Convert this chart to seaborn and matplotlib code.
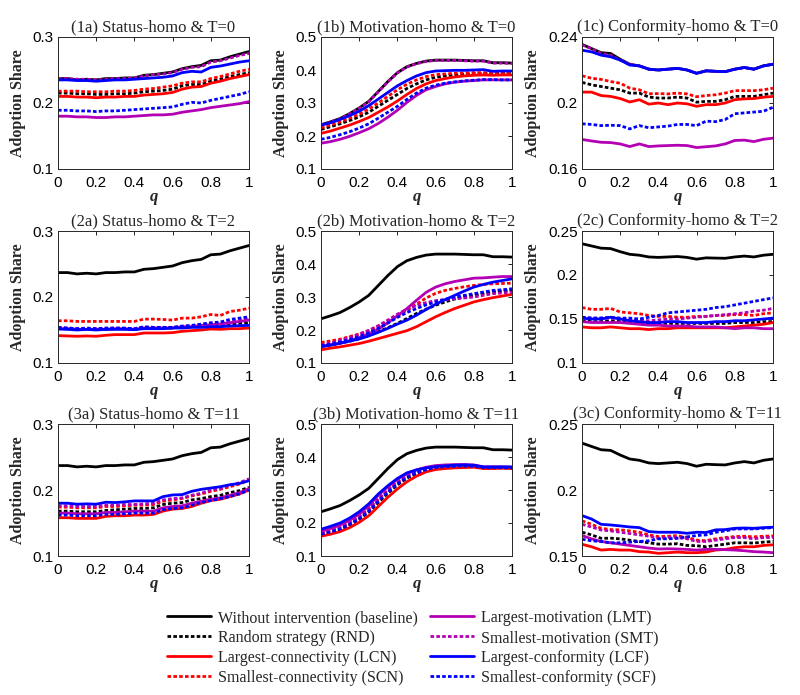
import numpy as np
import pandas as pd
import matplotlib
matplotlib.use("Agg")
import matplotlib.pyplot as plt
import seaborn as sns
from matplotlib.lines import Line2D

# ---------------- data ----------------
q = [0, 0.05, 0.1, 0.15, 0.2, 0.25, 0.3, 0.35, 0.4, 0.45, 0.5,
     0.55, 0.6, 0.65, 0.7, 0.75, 0.8, 0.85, 0.9, 0.95, 1.0]

strategies = ["BASE", "RND", "LCN", "SCN", "LMT", "SMT", "LCF", "SCF"]
legend_labels = ["Without intervention (baseline)", "Random strategy (RND)",
                 "Largest-connectivity (LCN)", "Smallest-connectivity (SCN)",
                 "Largest-motivation (LMT)", "Smallest-motivation (SMT)",
                 "Largest-conformity (LCF)", "Smallest-conformity (SCF)"]

titles = ["(1a) Status-homo & T=0", "(1b) Motivation-homo & T=0", "(1c) Conformity-homo & T=0",
          "(2a) Status-homo & T=2", "(2b) Motivation-homo & T=2", "(2c) Conformity-homo & T=2",
          "(3a) Status-homo & T=11", "(3b) Motivation-homo & T=11", "(3c) Conformity-homo & T=11"]

base_status = [0.237, 0.237, 0.235, 0.236, 0.235, 0.237, 0.237, 0.238, 0.238, 0.242, 0.243,
               0.245, 0.247, 0.252, 0.255, 0.257, 0.264, 0.265, 0.270, 0.274, 0.278]
base_motiv = [0.234, 0.243, 0.253, 0.268, 0.285, 0.305, 0.335, 0.365, 0.392, 0.410, 0.420,
              0.427, 0.430, 0.430, 0.430, 0.429, 0.428, 0.428, 0.422, 0.422, 0.421]
base_conf = [0.2355, 0.233, 0.2305, 0.230, 0.2265, 0.2235, 0.2225, 0.2205, 0.220, 0.2205, 0.221,
             0.220, 0.218, 0.2195, 0.2192, 0.219, 0.2205, 0.2215, 0.2205, 0.2225, 0.2235]

# (1a)
p1a_RND = [0.215, 0.215, 0.214, 0.214, 0.213, 0.213, 0.214, 0.214, 0.215, 0.217, 0.218, 0.219, 0.221, 0.226, 0.228, 0.228, 0.233, 0.236, 0.240, 0.243, 0.246]
p1a_LCN = [0.210, 0.210, 0.209, 0.209, 0.208, 0.209, 0.209, 0.210, 0.210, 0.212, 0.213, 0.214, 0.216, 0.221, 0.224, 0.225, 0.230, 0.233, 0.237, 0.240, 0.243]
p1a_SCN = [0.218, 0.218, 0.218, 0.217, 0.217, 0.217, 0.218, 0.218, 0.219, 0.221, 0.222, 0.224, 0.226, 0.230, 0.232, 0.232, 0.237, 0.240, 0.244, 0.248, 0.251]
p1a_LMT = [0.180, 0.180, 0.179, 0.179, 0.178, 0.178, 0.179, 0.179, 0.180, 0.181, 0.182, 0.182, 0.183, 0.186, 0.188, 0.190, 0.193, 0.195, 0.197, 0.199, 0.202]
p1a_SMT = [0.237, 0.237, 0.236, 0.236, 0.235, 0.236, 0.237, 0.237, 0.238, 0.241, 0.243, 0.244, 0.246, 0.251, 0.254, 0.255, 0.262, 0.264, 0.268, 0.272, 0.275]
p1a_LCF = [0.235, 0.235, 0.234, 0.234, 0.233, 0.234, 0.235, 0.235, 0.236, 0.237, 0.238, 0.239, 0.241, 0.246, 0.248, 0.247, 0.254, 0.256, 0.259, 0.262, 0.264]
p1a_SCF = [0.189, 0.189, 0.188, 0.188, 0.187, 0.188, 0.188, 0.189, 0.190, 0.191, 0.192, 0.193, 0.194, 0.198, 0.201, 0.200, 0.204, 0.207, 0.210, 0.213, 0.217]

# (1b)
p1b_RND = [0.220, 0.228, 0.237, 0.247, 0.258, 0.272, 0.290, 0.308, 0.326, 0.344, 0.358, 0.370, 0.378, 0.382, 0.385, 0.387, 0.389, 0.390, 0.389, 0.389, 0.390]
p1b_LCN = [0.208, 0.215, 0.224, 0.233, 0.244, 0.256, 0.272, 0.288, 0.306, 0.326, 0.344, 0.358, 0.368, 0.374, 0.379, 0.382, 0.384, 0.385, 0.384, 0.385, 0.385]
p1b_SCN = [0.225, 0.233, 0.243, 0.254, 0.266, 0.282, 0.300, 0.320, 0.340, 0.357, 0.370, 0.380, 0.386, 0.388, 0.390, 0.391, 0.392, 0.392, 0.390, 0.390, 0.390]
p1b_LMT = [0.178, 0.183, 0.190, 0.199, 0.210, 0.222, 0.238, 0.257, 0.278, 0.302, 0.323, 0.340, 0.350, 0.358, 0.363, 0.366, 0.368, 0.370, 0.370, 0.370, 0.370]
p1b_SMT = [0.233, 0.242, 0.252, 0.267, 0.284, 0.304, 0.334, 0.364, 0.391, 0.409, 0.419, 0.426, 0.429, 0.429, 0.429, 0.428, 0.427, 0.427, 0.421, 0.421, 0.420]
p1b_LCF = [0.233, 0.240, 0.250, 0.262, 0.275, 0.292, 0.312, 0.332, 0.352, 0.368, 0.382, 0.392, 0.397, 0.398, 0.399, 0.399, 0.400, 0.401, 0.396, 0.397, 0.397]
p1b_SCF = [0.190, 0.196, 0.204, 0.213, 0.224, 0.237, 0.254, 0.272, 0.290, 0.311, 0.330, 0.345, 0.354, 0.360, 0.364, 0.367, 0.369, 0.371, 0.371, 0.370, 0.370]

# (1c)
p1c_RND = [0.2125, 0.211, 0.210, 0.209, 0.208, 0.206, 0.206, 0.2036, 0.203, 0.203, 0.2036, 0.203, 0.2005, 0.201, 0.201, 0.202, 0.204, 0.204, 0.204, 0.205, 0.206]
p1c_LCN = [0.2066, 0.2066, 0.2045, 0.204, 0.2027, 0.2006, 0.202, 0.1993, 0.200, 0.199, 0.200, 0.1995, 0.198, 0.199, 0.199, 0.200, 0.202, 0.2025, 0.2027, 0.2035, 0.204]
p1c_SCN = [0.2165, 0.215, 0.2143, 0.213, 0.212, 0.209, 0.208, 0.2056, 0.2057, 0.2055, 0.206, 0.2055, 0.2038, 0.2045, 0.205, 0.206, 0.2075, 0.2075, 0.2075, 0.208, 0.209]
p1c_LMT = [0.1779, 0.177, 0.1762, 0.176, 0.1752, 0.1736, 0.1752, 0.1736, 0.174, 0.1742, 0.1744, 0.1742, 0.173, 0.1735, 0.174, 0.1752, 0.1773, 0.1775, 0.1766, 0.178, 0.1787]
p1c_SMT = [0.2352, 0.233, 0.230, 0.229, 0.226, 0.2235, 0.2225, 0.2205, 0.220, 0.2205, 0.221, 0.220, 0.218, 0.2195, 0.2192, 0.219, 0.2205, 0.2215, 0.2205, 0.2225, 0.2235]
p1c_LCF = [0.232, 0.231, 0.229, 0.228, 0.226, 0.223, 0.2225, 0.2205, 0.220, 0.2205, 0.221, 0.220, 0.218, 0.2195, 0.2192, 0.219, 0.2205, 0.2215, 0.2205, 0.2225, 0.2235]
p1c_SCF = [0.1874, 0.187, 0.1863, 0.1865, 0.1863, 0.1843, 0.1863, 0.185, 0.1855, 0.186, 0.187, 0.187, 0.1863, 0.189, 0.1887, 0.190, 0.1935, 0.194, 0.1945, 0.195, 0.1974]

# (2a)
p2a_RND = [0.152, 0.152, 0.151, 0.151, 0.151, 0.151, 0.152, 0.152, 0.151, 0.153, 0.153, 0.153, 0.153, 0.155, 0.155, 0.156, 0.157, 0.157, 0.159, 0.160, 0.161]
p2a_LCN = [0.1415, 0.141, 0.1405, 0.141, 0.1405, 0.142, 0.143, 0.143, 0.143, 0.1455, 0.1455, 0.1455, 0.146, 0.148, 0.149, 0.150, 0.1515, 0.151, 0.152, 0.152, 0.153]
p2a_SCN = [0.164, 0.164, 0.163, 0.163, 0.163, 0.163, 0.163, 0.163, 0.163, 0.1665, 0.1665, 0.166, 0.165, 0.168, 0.168, 0.170, 0.1735, 0.172, 0.178, 0.180, 0.183]
p2a_LMT = [0.152, 0.152, 0.151, 0.151, 0.151, 0.151, 0.152, 0.152, 0.151, 0.153, 0.153, 0.153, 0.153, 0.155, 0.155, 0.157, 0.158, 0.159, 0.161, 0.163, 0.165]
p2a_SMT = [0.153, 0.153, 0.152, 0.152, 0.152, 0.152, 0.153, 0.152, 0.152, 0.154, 0.154, 0.154, 0.154, 0.155, 0.156, 0.157, 0.159, 0.160, 0.163, 0.165, 0.167]
p2a_LCF = [0.1515, 0.151, 0.150, 0.151, 0.150, 0.151, 0.151, 0.151, 0.1505, 0.152, 0.152, 0.152, 0.153, 0.153, 0.154, 0.154, 0.155, 0.155, 0.156, 0.1565, 0.157]
p2a_SCF = [0.154, 0.153, 0.152, 0.153, 0.152, 0.153, 0.153, 0.153, 0.152, 0.155, 0.154, 0.154, 0.154, 0.156, 0.157, 0.159, 0.161, 0.162, 0.166, 0.168, 0.170]

# (2b)
p2b_RND = [0.150, 0.154, 0.160, 0.166, 0.173, 0.183, 0.195, 0.207, 0.220, 0.235, 0.250, 0.263, 0.275, 0.285, 0.294, 0.300, 0.305, 0.310, 0.315, 0.318, 0.320]
p2b_LCN = [0.140, 0.145, 0.149, 0.154, 0.159, 0.166, 0.174, 0.182, 0.190, 0.198, 0.210, 0.225, 0.240, 0.253, 0.265, 0.275, 0.285, 0.292, 0.298, 0.303, 0.308]
p2b_SCN = [0.162, 0.167, 0.172, 0.180, 0.188, 0.198, 0.211, 0.226, 0.243, 0.260, 0.278, 0.297, 0.311, 0.320, 0.326, 0.331, 0.335, 0.338, 0.340, 0.341, 0.342]
p2b_LMT = [0.150, 0.155, 0.160, 0.168, 0.177, 0.188, 0.202, 0.222, 0.243, 0.265, 0.290, 0.314, 0.330, 0.340, 0.347, 0.352, 0.357, 0.358, 0.360, 0.362, 0.362]
p2b_SMT = [0.155, 0.161, 0.168, 0.177, 0.187, 0.199, 0.213, 0.230, 0.248, 0.263, 0.274, 0.283, 0.289, 0.292, 0.295, 0.297, 0.300, 0.305, 0.310, 0.312, 0.315]
p2b_LCF = [0.150, 0.154, 0.160, 0.166, 0.173, 0.182, 0.193, 0.205, 0.218, 0.230, 0.245, 0.262, 0.278, 0.292, 0.305, 0.318, 0.330, 0.338, 0.345, 0.350, 0.355]
p2b_SCF = [0.152, 0.157, 0.164, 0.171, 0.180, 0.191, 0.205, 0.221, 0.238, 0.253, 0.265, 0.276, 0.285, 0.293, 0.300, 0.305, 0.310, 0.315, 0.320, 0.322, 0.325]

# (2c)
p2c_RND = [0.148, 0.147, 0.147, 0.148, 0.147, 0.146, 0.145, 0.145, 0.145, 0.145, 0.145, 0.145, 0.145, 0.145, 0.145, 0.145, 0.146, 0.146, 0.146, 0.147, 0.147]
p2c_LCN = [0.141, 0.140, 0.140, 0.141, 0.140, 0.139, 0.139, 0.138, 0.139, 0.139, 0.140, 0.140, 0.140, 0.140, 0.140, 0.140, 0.141, 0.142, 0.143, 0.144, 0.146]
p2c_SCN = [0.163, 0.161, 0.161, 0.162, 0.158, 0.157, 0.156, 0.154, 0.153, 0.153, 0.152, 0.152, 0.153, 0.153, 0.154, 0.154, 0.155, 0.155, 0.154, 0.156, 0.157]
p2c_LMT = [0.147, 0.146, 0.146, 0.146, 0.146, 0.145, 0.144, 0.143, 0.143, 0.142, 0.142, 0.142, 0.141, 0.141, 0.141, 0.140, 0.139, 0.140, 0.140, 0.139, 0.139]
p2c_SMT = [0.152, 0.151, 0.151, 0.151, 0.150, 0.149, 0.149, 0.148, 0.149, 0.150, 0.150, 0.151, 0.152, 0.153, 0.154, 0.155, 0.156, 0.157, 0.159, 0.160, 0.162]
p2c_LCF = [0.151, 0.150, 0.150, 0.152, 0.150, 0.148, 0.147, 0.146, 0.146, 0.147, 0.147, 0.146, 0.146, 0.146, 0.147, 0.147, 0.148, 0.148, 0.149, 0.150, 0.151]
p2c_SCF = [0.152, 0.151, 0.151, 0.152, 0.151, 0.151, 0.150, 0.152, 0.154, 0.157, 0.158, 0.159, 0.160, 0.161, 0.163, 0.164, 0.166, 0.168, 0.170, 0.172, 0.174]

# (3a)
p3a_RND = [0.168, 0.168, 0.167, 0.167, 0.167, 0.169, 0.170, 0.171, 0.172, 0.172, 0.173, 0.178, 0.180, 0.181, 0.185, 0.187, 0.190, 0.192, 0.196, 0.199, 0.204]
p3a_LCN = [0.158, 0.158, 0.157, 0.157, 0.157, 0.160, 0.161, 0.161, 0.162, 0.162, 0.163, 0.168, 0.171, 0.172, 0.175, 0.180, 0.184, 0.186, 0.190, 0.194, 0.200]
p3a_SCN = [0.174, 0.174, 0.173, 0.173, 0.173, 0.175, 0.175, 0.176, 0.177, 0.177, 0.178, 0.183, 0.185, 0.187, 0.191, 0.194, 0.198, 0.201, 0.205, 0.209, 0.215]
p3a_LMT = [0.165, 0.165, 0.164, 0.164, 0.164, 0.166, 0.166, 0.167, 0.168, 0.168, 0.168, 0.173, 0.175, 0.176, 0.180, 0.183, 0.186, 0.188, 0.192, 0.196, 0.202]
p3a_SMT = [0.176, 0.176, 0.175, 0.175, 0.175, 0.177, 0.177, 0.178, 0.178, 0.179, 0.180, 0.185, 0.187, 0.188, 0.192, 0.195, 0.200, 0.202, 0.207, 0.211, 0.217]
p3a_LCF = [0.180, 0.180, 0.1785, 0.179, 0.1785, 0.1815, 0.181, 0.182, 0.1835, 0.1835, 0.1835, 0.190, 0.1925, 0.193, 0.198, 0.201, 0.203, 0.205, 0.208, 0.210, 0.214]
p3a_SCF = [0.162, 0.162, 0.161, 0.161, 0.161, 0.163, 0.163, 0.164, 0.165, 0.165, 0.165, 0.170, 0.172, 0.173, 0.177, 0.181, 0.184, 0.187, 0.190, 0.194, 0.200]

# (3b)
p3b_RND = [0.165, 0.172, 0.180, 0.194, 0.211, 0.233, 0.262, 0.290, 0.315, 0.336, 0.350, 0.360, 0.366, 0.370, 0.371, 0.372, 0.372, 0.367, 0.367, 0.367, 0.366]
p3b_LCN = [0.160, 0.166, 0.174, 0.186, 0.202, 0.222, 0.250, 0.278, 0.303, 0.325, 0.342, 0.355, 0.362, 0.365, 0.367, 0.368, 0.369, 0.365, 0.365, 0.366, 0.365]
p3b_SCN = [0.168, 0.176, 0.185, 0.199, 0.216, 0.240, 0.270, 0.298, 0.322, 0.342, 0.355, 0.364, 0.369, 0.372, 0.373, 0.374, 0.373, 0.368, 0.368, 0.368, 0.367]
p3b_LMT = [0.175, 0.183, 0.194, 0.208, 0.227, 0.252, 0.284, 0.310, 0.333, 0.350, 0.361, 0.369, 0.374, 0.376, 0.377, 0.377, 0.376, 0.370, 0.370, 0.370, 0.369]
p3b_SMT = [0.171, 0.178, 0.188, 0.202, 0.220, 0.244, 0.275, 0.302, 0.326, 0.345, 0.357, 0.366, 0.371, 0.373, 0.375, 0.376, 0.374, 0.369, 0.369, 0.369, 0.368]
p3b_LCF = [0.181, 0.190, 0.200, 0.215, 0.234, 0.258, 0.288, 0.313, 0.335, 0.352, 0.361, 0.367, 0.371, 0.373, 0.375, 0.376, 0.375, 0.370, 0.370, 0.370, 0.370]
p3b_SCF = [0.166, 0.173, 0.182, 0.196, 0.213, 0.236, 0.266, 0.294, 0.319, 0.339, 0.352, 0.362, 0.368, 0.371, 0.372, 0.373, 0.372, 0.368, 0.368, 0.368, 0.367]

# (3c)
p3c_RND = [0.168, 0.166, 0.1634, 0.1635, 0.163, 0.162, 0.161, 0.160, 0.159, 0.159, 0.1593, 0.158, 0.1578, 0.157, 0.158, 0.159, 0.160, 0.160, 0.1598, 0.1605, 0.161]
p3c_LCN = [0.1589, 0.157, 0.1545, 0.155, 0.1545, 0.1545, 0.1533, 0.153, 0.152, 0.1525, 0.153, 0.1525, 0.1525, 0.153, 0.1545, 0.155, 0.1563, 0.157, 0.157, 0.158, 0.1585]
p3c_SCN = [0.1767, 0.174, 0.171, 0.170, 0.1698, 0.169, 0.168, 0.166, 0.1647, 0.165, 0.1654, 0.164, 0.162, 0.1616, 0.163, 0.164, 0.1647, 0.165, 0.1645, 0.165, 0.1652]
p3c_LMT = [0.1655, 0.163, 0.161, 0.160, 0.159, 0.158, 0.157, 0.156, 0.1553, 0.1555, 0.1553, 0.155, 0.1545, 0.155, 0.155, 0.1548, 0.1545, 0.154, 0.1533, 0.153, 0.1525]
p3c_SMT = [0.174, 0.172, 0.1697, 0.169, 0.168, 0.167, 0.166, 0.165, 0.1633, 0.164, 0.164, 0.163, 0.161, 0.161, 0.162, 0.163, 0.164, 0.164, 0.163, 0.164, 0.164]
p3c_LCF = [0.1806, 0.178, 0.174, 0.1735, 0.1728, 0.172, 0.1715, 0.1685, 0.168, 0.168, 0.168, 0.1672, 0.168, 0.1678, 0.1698, 0.170, 0.171, 0.1712, 0.171, 0.1715, 0.1718]
p3c_SCF = [0.1627, 0.1615, 0.161, 0.160, 0.160, 0.1605, 0.161, 0.1615, 0.163, 0.163, 0.1634, 0.1645, 0.1655, 0.166, 0.168, 0.169, 0.1705, 0.1705, 0.1705, 0.171, 0.1715]

y_limits = [(0.1, 0.3), (0.1, 0.5), (0.16, 0.24),
            (0.1, 0.3), (0.1, 0.5), (0.1, 0.25),
            (0.1, 0.3), (0.1, 0.5), (0.15, 0.25)]
y_ticks = [[0.1, 0.2, 0.3], [0.1, 0.2, 0.3, 0.4, 0.5], [0.16, 0.2, 0.24],
           [0.1, 0.2, 0.3], [0.1, 0.2, 0.3, 0.4, 0.5], [0.1, 0.15, 0.2, 0.25],
           [0.1, 0.2, 0.3], [0.1, 0.2, 0.3, 0.4, 0.5], [0.15, 0.2, 0.25]]
x_ticks = [0, 0.2, 0.4, 0.6, 0.8, 1]
x_ticklabels = ["0", "0.2", "0.4", "0.6", "0.8", "1"]

g = globals()
panels = []
bases = [base_status, base_motiv, base_conf]
for r in range(3):
    for c, letter in enumerate("abc"):
        key = f"p{r+1}{letter}"
        d = {"BASE": bases[c]}
        for s in strategies[1:]:
            d[s] = g[f"{key}_{s}"]
        panels.append(d)

# ---------------- styling ----------------
sns.set_theme(style="white")
plt.rcParams["font.family"] = ["Liberation Serif", "DejaVu Serif"]

colors = {"BASE": "black", "RND": "black", "LCN": "#ff0000", "SCN": "#ff0000",
          "LMT": "#b400b4", "SMT": "#b400b4", "LCF": "#0000ff", "SCF": "#0000ff"}
DOT = (0, (1.3, 0.8))
styles = {"BASE": "-", "RND": DOT, "LCN": "-", "SCN": DOT,
          "LMT": "-", "SMT": DOT, "LCF": "-", "SCF": DOT}
LW = 2.0

W, H = 800, 695
fig = plt.figure(figsize=(W / 100, H / 100), dpi=100)
fig.patch.set_facecolor("white")

lefts = [58, 321, 582]
tops = [37, 231, 424]
aw, ah = 191, 132

for i, d in enumerate(panels):
    r, c = divmod(i, 3)
    ax = fig.add_axes([lefts[c] / W, 1 - (tops[r] + ah) / H, aw / W, ah / H])
    df = pd.DataFrame({"q": q, **d})
    for s in strategies:
        sns.lineplot(data=df, x="q", y=s, ax=ax, color=colors[s],
                     linestyle=styles[s], linewidth=LW)
    ax.set_xlim(0, 1)
    ax.set_ylim(*y_limits[i])
    ax.set_xticks(x_ticks)
    ax.set_xticklabels(x_ticklabels)
    ax.set_yticks(y_ticks[i])
    ax.set_yticklabels([f"{v:g}" for v in y_ticks[i]])
    for lab in ax.get_xticklabels() + ax.get_yticklabels():
        lab.set_fontfamily(["Liberation Sans", "DejaVu Sans"])
        lab.set_fontsize(11)
    ax.tick_params(axis="x", pad=5)
    ax.tick_params(axis="y", pad=3)
    ax.tick_params(direction="in", length=3, width=0.6, top=True, right=True,
                   colors="black")
    for sp in ax.spines.values():
        sp.set_visible(True)
        sp.set_color("#262626")
        sp.set_linewidth(0.7)
    ax.set_title(titles[i], fontsize=12, pad=4)
    ax.set_xlabel("q", fontsize=12, fontweight="bold", fontstyle="italic", labelpad=-1)
    ax.set_ylabel("Adoption Share", fontsize=11.5, fontweight="bold", labelpad=5)
    ax.grid(False)

handles = [Line2D([0], [0], color=colors[s], linestyle=styles[s], linewidth=LW)
           for s in strategies]
leg = fig.legend(handles, legend_labels, ncol=2, frameon=False,
                 loc="center", bbox_to_anchor=(413 / W, 1 - 648 / H),
                 fontsize=11.5, handlelength=2.75, handletextpad=0.45,
                 columnspacing=0.75, labelspacing=0.25)

fig.savefig("out.png", dpi=100, facecolor="white")
